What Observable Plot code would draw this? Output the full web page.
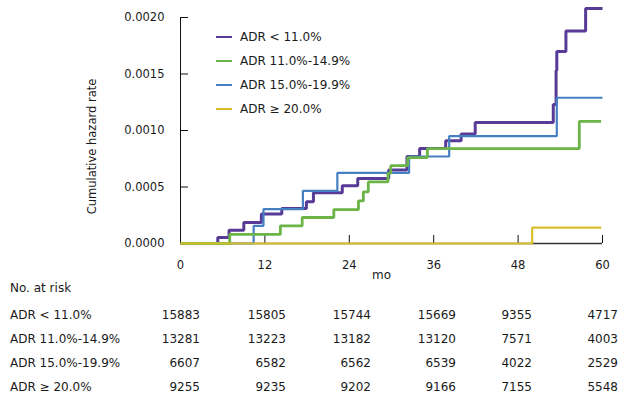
<!DOCTYPE html>
<html><head><meta charset="utf-8">
<script src="https://cdn.jsdelivr.net/npm/d3@7"></script>
<script src="https://cdn.jsdelivr.net/npm/@observablehq/plot@0.6"></script>
<style>
body{margin:0;background:#fff;font-family:"DejaVu Sans",Verdana,sans-serif;}
#wrap{position:relative;width:632px;height:400px;overflow:hidden;}
#wrap svg{position:absolute;left:0;top:0;}
.t{position:absolute;font-size:12px;color:#1a1a1a;white-space:nowrap;line-height:14px;height:14px;}
.sw{position:absolute;height:2px;width:16px;}
</style></head><body><div id="wrap"></div>
<script>
// ---- data ----
const groups = ["ADR < 11.0%", "ADR 11.0%-14.9%", "ADR 15.0%-19.9%", "ADR ≥ 20.0%"];
const colors = ["#573b96", "#6bb447", "#4580c3", "#d9bf2c"];

const timeA = [0, 5.3, 6.9, 9.0, 11.5, 14.4, 17.9, 18.9, 23.0, 25.2, 29.6, 32.2, 34.0, 37.7, 39.9, 41.9, 53.0, 53.4, 53.5, 54.8, 57.6, 60.0];
const hazA  = [0, 0.000053, 0.000118, 0.000186, 0.00026, 0.00031, 0.00037, 0.00045, 0.00051, 0.000575, 0.00065, 0.00077, 0.00084, 0.00091, 0.00097, 0.00107, 0.00123, 0.00153, 0.0017, 0.00188, 0.00208, 0.00208];

const timeB = [0, 7.0, 14.2, 17.3, 21.8, 25.3, 26.0, 26.7, 29.5, 29.9, 32.3, 35.1, 56.7, 59.8];
const hazB  = [0, 0.00008, 0.000156, 0.00023, 0.0003, 0.000377, 0.000457, 0.000545, 0.00062, 0.00069, 0.00076, 0.00084, 0.00108, 0.00108];

const timeC = [0, 10.4, 11.8, 17.4, 22.3, 32.5, 38.2, 53.5, 60.0];
const hazC  = [0, 0.000156, 0.000304, 0.000466, 0.000625, 0.00077, 0.00095, 0.00129, 0.00129];

const timeD = [0, 50.0, 59.8];
const hazD  = [0, 0.00014, 0.00014];

const xTicks = [0, 12, 24, 36, 48, 60];
const yTicks = [0, 0.0005, 0.0010, 0.0015, 0.0020];

const riskTitle = "No. at risk";
const riskA = [15883, 15805, 15744, 15669, 9355, 4717];
const riskB = [13281, 13223, 13182, 13120, 7571, 4003];
const riskC = [6607, 6582, 6562, 6539, 4022, 2529];
const riskD = [9255, 9235, 9202, 9166, 7155, 5548];

// ---- build ----
const series = [
  {t: timeA, h: hazA, w: 3},
  {t: timeB, h: hazB, w: 2.8},
  {t: timeC, h: hazC, w: 2.2},
  {t: timeD, h: hazD, w: 2.2}
].map((s, i) => ({...s, color: colors[i], rows: s.t.map((t, j) => ({t, h: s.h[j]}))}));

const drawOrder = [0, 2, 1, 3];

const plot = Plot.plot({
  width: 632, height: 285,
  marginLeft: 180, marginRight: 30, marginTop: 17, marginBottom: 42,
  style: {fontFamily: "DejaVu Sans, Verdana, sans-serif", fontSize: "11.5px", color: "#1a1a1a", background: "white"},
  x: {domain: [0, 60]},
  y: {domain: [0, 0.002]},
  marks: [
    Plot.ruleY([0], {x1: 0, x2: 60, stroke: "#333", strokeWidth: 1.5}),
    Plot.ruleX([0], {y1: 0, y2: 0.002, stroke: "#111", strokeWidth: 1}),
    Plot.ruleY(yTicks.slice(1), {stroke: "#111", insetRight: 414}),
    Plot.ruleX(xTicks.slice(1), {stroke: "#111", insetTop: 218}),
    ...drawOrder.map(i => Plot.line(series[i].rows, {x: "t", y: "h", curve: "step-after", stroke: series[i].color, strokeWidth: series[i].w, strokeLinejoin: "miter", strokeLinecap: "butt"})),
    Plot.axisY(yTicks, {tickSize: 0, tickPadding: 16, tickFormat: d3.format(".4f"), label: null}),
    Plot.axisX(xTicks, {tickSize: 0, tickPadding: 17, label: null}),
    Plot.text(["Cumulative hazard rate"], {frameAnchor: "left", textAnchor: "middle", rotate: -90, dx: -88, dy: 16, fontSize: 11.5}),
    Plot.text(["mo"], {frameAnchor: "bottom", dx: -10, dy: 35, fontSize: 12})
  ]
});
const wrap = document.getElementById("wrap");
wrap.appendChild(plot);

function addText(txt, opts) {
  const d = document.createElement("div");
  d.className = "t";
  d.textContent = txt;
  Object.assign(d.style, opts);
  wrap.appendChild(d);
  return d;
}
// legend
groups.forEach((g, i) => {
  const cy = 37 + i * 24;
  const sw = document.createElement("div");
  sw.className = "sw";
  Object.assign(sw.style, {left: "216px", top: (cy - 1) + "px", background: colors[i]});
  wrap.appendChild(sw);
  addText(g, {left: "240px", top: (cy - 7) + "px"});
});
// risk table
addText(riskTitle, {left: "10px", top: (288 - 7) + "px"});
const riskRows = [riskA, riskB, riskC, riskD];
const colRight = [200, 286, 371, 456, 532, 618];
riskRows.forEach((r, i) => {
  const cy = 315 + i * 24;
  addText(groups[i], {left: "10px", top: (cy - 7) + "px"});
  r.forEach((v, j) => addText(String(v), {right: (632 - colRight[j]) + "px", top: (cy - 7) + "px", textAlign: "right"}));
});
</script></body></html>
